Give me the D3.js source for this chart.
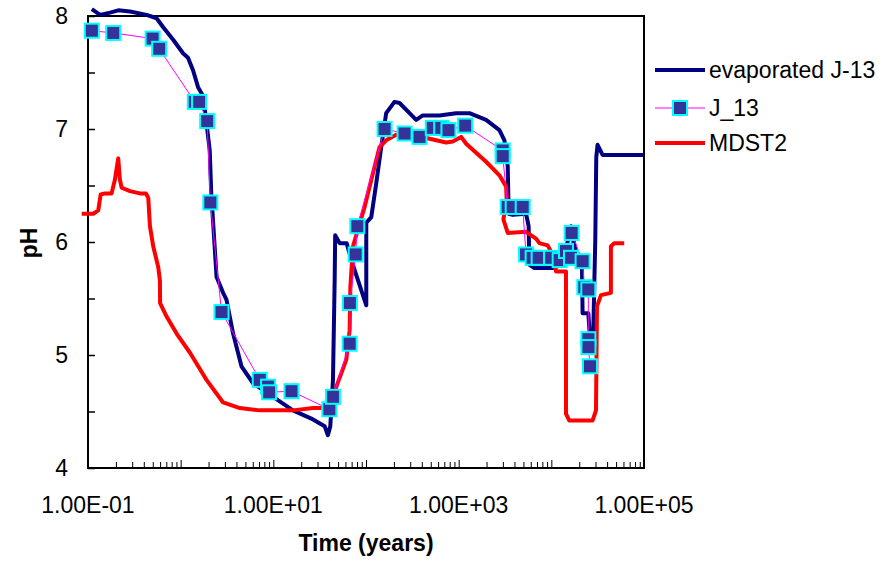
<!DOCTYPE html>
<html>
<head>
<meta charset="utf-8">
<script src="https://cdn.jsdelivr.net/npm/d3@7"></script>
<style>
  body { margin: 0; background: #fff; }
  svg text { font-family: "Liberation Sans", Arial, sans-serif; fill: #000; }
</style>
</head>
<body>
<div id="chart"></div>
<script>
// evaporated J-13 (model curve)
var evapTime = [0.11, 0.135, 0.173, 0.212, 0.284, 0.429, 0.55, 0.648, 0.83, 1.06, 1.2, 1.36, 1.54, 1.75, 1.9, 2.06, 2.15, 2.21, 2.44, 2.87, 3.12, 3.68, 4.53, 6.04, 9.93, 16.3, 26.8, 35.8, 38.8, 41.2, 44.0, 45.9, 46.5, 51.9, 61.8, 69.5, 100.7, 100.7, 114, 129, 146, 165, 203, 230, 295, 348, 410, 621, 940, 1306, 1977, 2752, 3117, 3384, 3467, 3828, 5336, 5690, 5796, 6560, 10330, 13240, 16300, 18450, 21420, 21740, 25060, 26660, 28370, 29800, 30550, 31550, 35730, 100000];
var evapPH = [8.06, 8.01, 8.03, 8.05, 8.04, 8.01, 7.98, 7.9, 7.79, 7.67, 7.63, 7.52, 7.37, 7.29, 7.05, 6.81, 6.37, 6.25, 5.69, 5.55, 5.49, 5.19, 4.9, 4.75, 4.63, 4.51, 4.43, 4.37, 4.29, 4.37, 4.78, 5.66, 6.06, 5.99, 5.99, 5.84, 5.44, 6.17, 6.22, 6.52, 6.84, 7.14, 7.24, 7.23, 7.14, 7.08, 7.12, 7.12, 7.14, 7.14, 7.08, 6.99, 6.9, 6.67, 6.25, 6.24, 6.25, 6.14, 5.8, 5.77, 5.77, 5.8, 6.14, 5.9, 5.78, 5.37, 5.37, 5.04, 5.22, 6.02, 6.75, 6.86, 6.77, 6.77];

// J_13 (markers)
var j13Time = [0.11, 0.187, 0.498, 0.586, 1.42, 1.58, 1.93, 2.09, 2.76, 7.13, 8.77, 8.99, 15.7, 40.2, 44.0, 66.6, 67, 77.3, 80.5, 158.6, 260.6, 378, 526, 648, 776, 1175, 2985, 2990, 3384, 3828, 4909, 5336, 6285, 7295, 9930, 12300, 14390, 16300, 16560, 21740, 22700, 25060, 25100, 25150, 26120];
var j13PH = [7.87, 7.85, 7.8, 7.71, 7.24, 7.24, 7.07, 6.35, 5.38, 4.78, 4.72, 4.67, 4.68, 4.52, 4.63, 5.1, 5.46, 5.89, 6.14, 7.0, 6.96, 6.93, 7.01, 7.01, 6.99, 7.03, 6.81, 6.76, 6.31, 6.31, 6.31, 5.89, 5.86, 5.86, 5.86, 5.84, 5.92, 5.86, 6.08, 5.83, 5.6, 5.58, 5.14, 5.07, 4.9];

// MDST2
var mdstTime = [0.0855, 0.114, 0.129, 0.137, 0.1525, 0.18, 0.187, 0.195, 0.212, 0.221, 0.231, 0.284, 0.363, 0.422, 0.447, 0.466, 0.506, 0.572, 0.597, 0.6, 0.705, 0.904, 1.26, 1.9, 2.87, 4.35, 7.13, 16.3, 26.8, 40.5, 44.0, 47.9, 61.3, 66.6, 67.8, 72.3, 81.8, 96.6, 114, 140, 165, 212, 295, 447, 733, 863, 1064, 1205, 1543, 1977, 2752, 3250, 3297, 3040, 3384, 5336, 6840, 7430, 9120, 10330, 11230, 14390, 14400, 15630, 27850, 30330, 31080, 34300, 43950, 43960, 47750, 61200];
var mdstPH = [6.25, 6.25, 6.28, 6.42, 6.43, 6.43, 6.49, 6.55, 6.74, 6.55, 6.48, 6.45, 6.43, 6.43, 6.39, 6.14, 5.96, 5.78, 5.66, 5.46, 5.34, 5.19, 5.02, 4.78, 4.58, 4.53, 4.51, 4.51, 4.53, 4.53, 4.6, 4.72, 4.96, 5.22, 5.6, 5.96, 6.11, 6.31, 6.55, 6.84, 6.9, 6.95, 6.94, 6.92, 6.88, 6.89, 6.93, 6.87, 6.79, 6.71, 6.59, 6.49, 6.37, 6.2, 6.08, 6.09, 6.03, 5.99, 5.97, 5.89, 5.74, 5.74, 4.48, 4.42, 4.42, 4.51, 5.43, 5.53, 5.55, 5.96, 5.99, 5.99];

var xLabelTicks = [0.1, 10, 1000, 100000];
var xTickText = ["1.00E-01", "1.00E+01", "1.00E+03", "1.00E+05"];
var yTicks = [4, 5, 6, 7, 8];
var seriesNames = ["evaporated J-13", "J_13", "MDST2"];

var zip = function(a, b) { return a.map(function(t, i) { return {t: t, ph: b[i]}; }); };
var evap = zip(evapTime, evapPH);
var j13 = zip(j13Time, j13PH);
var mdst = zip(mdstTime, mdstPH);

var svg = d3.select("#chart").append("svg")
  .attr("width", 894)
  .attr("height", 561);

var plot = {left: 88, right: 644, top: 16, bottom: 468};

var x = d3.scaleLog()
  .domain([0.1, 100000])
  .range([plot.left, plot.right]);

var y = d3.scaleLinear()
  .domain([4, 8])
  .range([plot.bottom, plot.top]);

var line = d3.line()
  .x(function(d) { return x(d.t); })
  .y(function(d) { return y(d.ph); });

// frame
svg.append("rect")
  .attr("x", plot.left)
  .attr("y", plot.top)
  .attr("width", plot.right - plot.left)
  .attr("height", plot.bottom - plot.top)
  .attr("fill", "none")
  .attr("stroke", "#000")
  .attr("stroke-width", 2);

// x axis: inward ticks on every decade and its minor steps
var xTicksAll = x.ticks();
var xAxis = d3.axisBottom(x)
  .tickValues(xTicksAll)
  .tickSizeInner(0)
  .tickSizeOuter(0)
  .tickFormat("");
var gx = svg.append("g")
  .attr("transform", "translate(0," + plot.bottom + ")")
  .call(xAxis);
gx.select(".domain").remove();
gx.selectAll(".tick line")
  .attr("y2", function(d) { return Math.abs(Math.log10(d) - Math.round(Math.log10(d))) < 1e-9 ? -8 : -6; })
  .attr("stroke", "#000")
  .attr("stroke-width", 1);

svg.append("g").selectAll("text")
  .data(xLabelTicks)
  .join("text")
  .attr("x", function(d) { return x(d); })
  .attr("y", 513)
  .attr("text-anchor", "middle")
  .attr("font-size", 23)
  .text(function(d, i) { return xTickText[i]; });

// y axis: inward ticks at each unit and half unit
var yAxis = d3.axisLeft(y)
  .tickValues(d3.range(4, 8.01, 0.5))
  .tickSizeInner(-7)
  .tickSizeOuter(0)
  .tickFormat("");
var gy = svg.append("g")
  .attr("transform", "translate(" + plot.left + ",0)")
  .call(yAxis);
gy.select(".domain").remove();
gy.selectAll(".tick line").attr("stroke", "#000").attr("stroke-width", 1.5);

svg.append("g").selectAll("text")
  .data(yTicks)
  .join("text")
  .attr("x", 68)
  .attr("y", function(d) { return y(d) + 8; })
  .attr("text-anchor", "end")
  .attr("font-size", 23)
  .text(function(d) { return d; });

// axis titles
svg.append("text")
  .attr("x", 366)
  .attr("y", 551)
  .attr("text-anchor", "middle")
  .attr("font-size", 23)
  .attr("font-weight", "bold")
  .text("Time (years)");

svg.append("text")
  .attr("transform", "translate(37,243) rotate(-90)")
  .attr("text-anchor", "middle")
  .attr("font-size", 23)
  .attr("font-weight", "bold")
  .text("pH");

// series
svg.append("path")
  .datum(evap)
  .attr("fill", "none")
  .attr("stroke", "#000080")
  .attr("stroke-width", 4)
  .attr("stroke-linejoin", "round")
  .attr("d", line);

svg.append("path")
  .datum(mdst)
  .attr("fill", "none")
  .attr("stroke", "#ff0000")
  .attr("stroke-width", 4)
  .attr("stroke-linejoin", "round")
  .attr("d", line);

svg.append("path")
  .datum(j13)
  .attr("fill", "none")
  .attr("stroke", "#ff00ff")
  .attr("stroke-width", 1)
  .attr("d", line);

svg.append("g").selectAll("rect")
  .data(j13)
  .join("rect")
  .attr("x", function(d) { return x(d.t) - 7; })
  .attr("y", function(d) { return y(d.ph) - 7; })
  .attr("width", 14)
  .attr("height", 14)
  .attr("fill", "#333399")
  .attr("stroke", "#00ffff")
  .attr("stroke-width", 2);

// legend
var legendY = [70, 108, 143];
var legendColor = ["#000080", "#ff00ff", "#ff0000"];
var legendWidth = [4, 1, 4];
var lg = svg.append("g");
seriesNames.forEach(function(name, i) {
  lg.append("line")
    .attr("x1", 655).attr("x2", 705)
    .attr("y1", legendY[i]).attr("y2", legendY[i])
    .attr("stroke", legendColor[i])
    .attr("stroke-width", legendWidth[i]);
  if (i === 1) {
    lg.append("rect")
      .attr("x", 673).attr("y", legendY[i] - 7)
      .attr("width", 14).attr("height", 14)
      .attr("fill", "#333399")
      .attr("stroke", "#00ffff")
      .attr("stroke-width", 2);
  }
  lg.append("text")
    .attr("x", 709)
    .attr("y", legendY[i] + 8)
    .attr("font-size", 23)
    .text(name);
});
</script>
</body>
</html>
